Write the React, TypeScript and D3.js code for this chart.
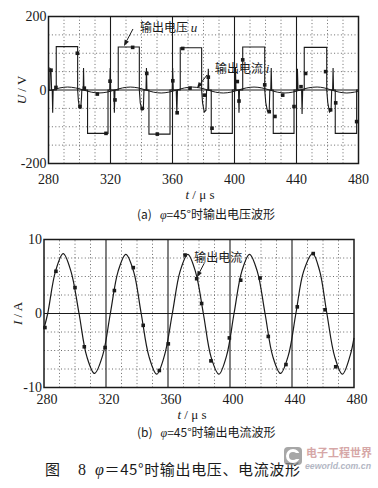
import React from "react";
import * as d3 from "d3";

// ---------- data ----------
const xTicks = [280, 320, 360, 400, 440, 480];
const yTicksV = [-200, 0, 200];
const yTicksI = [-10, 0, 10];

// output voltage u (V) trace
const tVolt = [
  280, 280.8, 281.0, 281.6, 282.0, 282.4, 282.7, 283.0, 285.0, 285.0, 298.8, 298.8, 299.3, 300.0, 300.8, 301.3, 301.5, 302.4, 302.6, 302.9, 305.2, 305.2, 318.4, 318.4, 319.5, 319.8, 320.1,
  322.2, 322.5, 322.9, 325.0, 325.0, 338.6, 338.6, 339.2, 340.3, 341.2, 341.6, 342.9, 343.2, 343.5, 344.8, 344.8, 358.4, 358.4, 359.8, 360.1, 360.5,
  362.4, 362.8, 363.2, 365.0, 365.0, 378.8, 378.8, 379.4, 380.5, 381.6, 382.0, 382.8, 383.1, 383.4, 385.0, 385.0, 398.6, 398.6, 400.3, 400.6, 401.0,
  402.6, 402.9, 403.2, 405.3, 405.3, 419.5, 419.5, 420.2, 421.3, 422.4, 422.8, 423.4, 423.7, 424.0, 425.0, 425.0, 438.4, 438.4, 440.3, 440.6, 441.0,
  443.3, 443.6, 444.0, 445.0, 445.0, 459.5, 459.5, 460.2, 461.3, 462.3, 462.7, 463.3, 463.6, 463.9, 465.0, 465.0, 478.8, 478.8, 480,
];
const vVolt = [
  0, 0, 58, 54, 0, 0, -62, 0, 0, 118, 118, 0, -30, -48, -50, -20, 0, 0, 60, 0, 0, -118, -118, 0, 0, 60, 0,
  0, -62, 0, 0, 117, 117, 0, -35, -55, -50, 0, 0, 60, 0, 0, -120, -120, 0, 0, 60, 0,
  0, -65, 0, 0, 115, 115, 0, -35, -60, -55, 0, 0, 58, 0, 0, -118, -118, 0, 0, 60, 0,
  0, -62, 0, 0, 117, 117, 0, -35, -58, -55, 0, 0, 60, 0, 0, -118, -118, 0, 0, 58, 0,
  0, -65, 0, 0, 116, 116, 0, -35, -60, -55, 0, 0, 60, 0, 0, -118, -118, 0, 0,
];
// voltage-trace markers
const tMarkV = [281.6, 284.8, 298.6, 300.3, 303.1, 311.5, 317.1, 319.7, 322.9, 334.3, 340.5, 343.4, 350.2, 360.2, 363.0, 366.6, 371.3, 380.5, 383.1, 385.5, 401.8, 402.9, 405.3, 419.5, 422.4, 426.1, 431.1, 438.4, 442.9, 445.9, 458.8, 462.0, 465.3, 478.8];
const vMarkV = [54, 7, 100, -45, 5, -11, -118, 24, -27, 116, -50, 45, -120, 25, -62, 113, 5, -14, 35, -104, 23, -30, 82, 14, -59, -72, -14, -45, 9, 45, 50, -54, -35, -86];

// output current i (A)
const tCur = [
  280, 282.4, 287.4, 292.4, 297.4, 302.6, 307.6, 312.6, 317.8, 322.8, 327.8, 332.8, 337.8, 342.7, 347.7, 352.7, 357.7,
  362.8, 367.8, 372.8, 377.8, 382.8, 387.8, 392.8, 397.8, 402.6, 407.6, 412.6, 417.6, 422.6, 427.6, 432.6, 437.6,
  442.5, 447.5, 453.3, 457.8, 462.5, 467.5, 472.5, 477.5, 480,
];
const iCur = [
  -2.0, 0, 5.7, 8.1, 5.7, 0, -5.8, -8.1, -5.7, 0, 5.7, 8.0, 5.7, 0, -5.8, -8.2, -5.7,
  0, 5.7, 8.0, 5.6, 0, -5.9, -8.2, -5.7, 0, 5.7, 8.0, 5.7, 0, -5.8, -8.1, -5.7,
  0, 5.7, 8.1, 5.8, 0, -5.8, -8.2, -5.7, -3.3,
];
const tMarkI = [280.6, 287.7, 300.0, 306.0, 319.4, 325.4, 337.6, 344.0, 354.4, 360.2, 371.0, 378.5, 381.7, 387.7, 399.6, 406.9, 419.4, 424.7, 436.1, 443.4, 453.7, 461.3, 468.2];
const iMarkI = [-1.9, 5.7, 3.5, -4.5, -4.6, 3.1, 6.2, -1.6, -7.7, -4.1, 7.9, 4.7, 1.35, -6.4, -3.3, 4.5, 4.8, -3.1, -6.9, 0.9, 8.1, 0.5, -7.2];

// ---------- layout ----------
const W = 378;
const H = 488;
const ink = "#1a1a1a";
const num = "'Liberation Serif', 'DejaVu Serif', serif";
const cjk = "'Noto Sans CJK SC', sans-serif";

const xV = d3.scaleLinear().domain([280, 480]).range([48.5, 358.5]);
const yV = d3.scaleLinear().domain([-200, 200]).range([163.5, 16.5]);
const xI = d3.scaleLinear().domain([280, 480]).range([44, 354]);
const yI = d3.scaleLinear().domain([-10, 10]).range([387.5, 239.5]);

function Grid({ x, y, yMinor }: any) {
  const [t0, t1] = x.domain();
  const [v0, v1] = y.domain();
  const minorX = d3.range(t0 + 10, t1, 10).filter((t) => (t - t0) % 40 !== 0);
  const majorX = d3.range(t0 + 40, t1, 40);
  const minorY = d3.range(v0 + yMinor, v1, yMinor).filter((v) => Math.abs(v) > 1e-9);
  return (
    <g>
      {minorX.map((t) => (
        <line key={"mx" + t} x1={x(t)} x2={x(t)} y1={y(v0)} y2={y(v1)} stroke="#444" strokeWidth={0.8} strokeDasharray="1 2.4" />
      ))}
      {minorY.map((v) => (
        <line key={"my" + v} x1={x(t0)} x2={x(t1)} y1={y(v)} y2={y(v)} stroke="#444" strokeWidth={0.8} strokeDasharray="1 2.4" />
      ))}
      {majorX.map((t) => (
        <line key={"Mx" + t} x1={x(t)} x2={x(t)} y1={y(v0)} y2={y(v1)} stroke={ink} strokeWidth={1.1} />
      ))}
      <line x1={x(t0)} x2={x(t1)} y1={y(0)} y2={y(0)} stroke={ink} strokeWidth={1.2} />
      <rect x={x(t0)} y={y(v1)} width={x(t1) - x(t0)} height={y(v0) - y(v1)} fill="none" stroke={ink} strokeWidth={1.5} />
    </g>
  );
}

function Arrow({ x1, y1, x2, y2 }: any) {
  const a = Math.atan2(y2 - y1, x2 - x1);
  const L = 6, w = 2.4;
  const bx = x2 - L * Math.cos(a), by = y2 - L * Math.sin(a);
  const p = `${x2},${y2} ${bx + w * Math.sin(a)},${by - w * Math.cos(a)} ${bx - w * Math.sin(a)},${by + w * Math.cos(a)}`;
  return (
    <g>
      <line x1={x1} y1={y1} x2={bx} y2={by} stroke={ink} strokeWidth={1} />
      <polygon points={p} fill={ink} />
    </g>
  );
}

export default function App() {
  const voltLine = d3
    .line<number>()
    .x((_, k) => xV(tVolt[k]))
    .y((v) => yV(v))(vVolt) as string;
  const curTop = d3
    .line<number>()
    .x((_, k) => xV(tCur[k]))
    .y((v) => yV(v))
    .curve(d3.curveCatmullRom.alpha(0.5))(iCur) as string;
  const curBot = d3
    .line<number>()
    .x((_, k) => xI(tCur[k]))
    .y((v) => yI(v))
    .curve(d3.curveCatmullRom.alpha(0.5))(iCur) as string;

  return (
    <svg width={W} height={H} viewBox={`0 0 ${W} ${H}`} style={{ position: "absolute", left: 0, top: 0, background: "#fff" }}>
      <rect width={W} height={H} fill="#fff" />
      {/* ---------- (a) voltage ---------- */}
      <Grid x={xV} y={yV} yMinor={50} />
      <path d={curTop} fill="none" stroke={ink} strokeWidth={1} />
      <path d={voltLine} fill="none" stroke={ink} strokeWidth={1.1} />
      {tMarkV.map((t, k) => (
        <rect key={"mv" + k} x={xV(t) - 1.8} y={yV(vMarkV[k]) - 1.8} width={3.6} height={3.6} fill={ink} />
      ))}
      {yTicksV.map((v) => (
        <text key={"yv" + v} x={xV(280) - 2} y={yV(v) + 4.5} textAnchor="end" fontFamily={num} fontSize={14} fill={ink}>
          {v < 0 ? "-" + Math.abs(v) : v}
        </text>
      ))}
      {xTicks.map((t) => (
        <text key={"xv" + t} x={xV(t)} y={184} textAnchor="middle" fontFamily={num} fontSize={14} fill={ink}>
          {t}
        </text>
      ))}
      <text x={200} y={199} textAnchor="middle" fontFamily={num} fontSize={13} fill={ink}>
        <tspan fontStyle="italic">t</tspan> / μ s
      </text>
      <text transform={`translate(26,${yV(0)}) rotate(-90)`} textAnchor="middle" fontFamily={num} fontSize={13} fill={ink}>
        <tspan fontStyle="italic">U</tspan> / V
      </text>
      <Arrow x1={xV(334.5)} y1={yV(166)} x2={xV(328.7)} y2={yV(120)} />
      <text x={xV(339)} y={yV(158)} fontFamily={cjk} fontSize={12} fill={ink}>
        输出电压 <tspan fontFamily={num} fontStyle="italic" fontSize={13}>u</tspan>
      </text>
      <Arrow x1={xV(382.3)} y1={yV(41)} x2={xV(375.8)} y2={yV(5)} />
      <text x={xV(387.4)} y={yV(46)} fontFamily={cjk} fontSize={12} fill={ink}>
        输出电流 <tspan fontFamily={num} fontStyle="italic" fontSize={13}>i</tspan>
      </text>
      <text x={137} y={219} fontFamily={cjk} fontSize={12} fill={ink}>
        (a)
        <tspan dx={8} fontFamily={num} fontStyle="italic">φ</tspan>=45°时输出电压波形
      </text>

      {/* ---------- (b) current ---------- */}
      <Grid x={xI} y={yI} yMinor={2.5} />
      <path d={curBot} fill="none" stroke={ink} strokeWidth={1.2} />
      {tMarkI.map((t, k) => (
        <rect key={"mi" + k} x={xI(t) - 1.8} y={yI(iMarkI[k]) - 1.8} width={3.6} height={3.6} fill={ink} />
      ))}
      {yTicksI.map((v) => (
        <text key={"yi" + v} x={xI(280) - 2} y={yI(v) + 4.5} textAnchor="end" fontFamily={num} fontSize={14} fill={ink}>
          {v < 0 ? "-" + Math.abs(v) : v}
        </text>
      ))}
      {xTicks.map((t) => (
        <text key={"xi" + t} x={xI(t) + 3} y={404} textAnchor="middle" fontFamily={num} fontSize={14} fill={ink}>
          {t}
        </text>
      ))}
      <text x={192} y={419} textAnchor="middle" fontFamily={num} fontSize={13} fill={ink}>
        <tspan fontStyle="italic">t</tspan> / μ s
      </text>
      <text transform={`translate(22,${yI(0)}) rotate(-90)`} textAnchor="middle" fontFamily={num} fontSize={13} fill={ink}>
        <tspan fontStyle="italic">I</tspan> / A
      </text>
      <Arrow x1={xI(383.4)} y1={yI(6.8)} x2={xI(378.7)} y2={yI(4.9)} />
      <text x={xI(377)} y={yI(7.0)} fontFamily={cjk} fontSize={12} fill={ink}>
        输出电流
      </text>
      <text x={137} y={437} fontFamily={cjk} fontSize={12} fill={ink}>
        (b)
        <tspan dx={8} fontFamily={num} fontStyle="italic">φ</tspan>=45°时输出电流波形
      </text>

      {/* ---------- figure caption ---------- */}
      <text x={45} y={475} fontFamily={cjk} fontSize={15} fill={ink}>
        图
      </text>
      <text x={78} y={475} fontFamily={num} fontSize={16} fill={ink}>
        8
      </text>
      <text x={95} y={475} fontFamily={cjk} fontSize={15} fill={ink} textLength={205} lengthAdjust="spacing">
        <tspan fontFamily={num} fontStyle="italic" fontSize={16}>φ</tspan>＝45°时输出电压、电流波形
      </text>

      {/* ---------- watermark ---------- */}
      <g opacity={0.75}>
        <rect x={284} y={447} width={18} height={18} rx={4} fill="#8a8a8a" />
        <circle cx={293} cy={456} r={5.5} fill="none" stroke="#fff" strokeWidth={3} />
        <rect x={293.5} y={453} width={8} height={6} fill="#8a8a8a" />
        <text x={306} y={457} fontFamily={cjk} fontSize={11} fontWeight={700} fill="#c98a8a">
          电子工程世界
        </text>
        <text x={305} y={469} fontFamily="'Liberation Sans', sans-serif" fontSize={9} fontStyle="italic" fontWeight={700} fill="#9aa0b0" textLength={66} lengthAdjust="spacingAndGlyphs">
          eeworld.com.cn
        </text>
      </g>
    </svg>
  );
}
